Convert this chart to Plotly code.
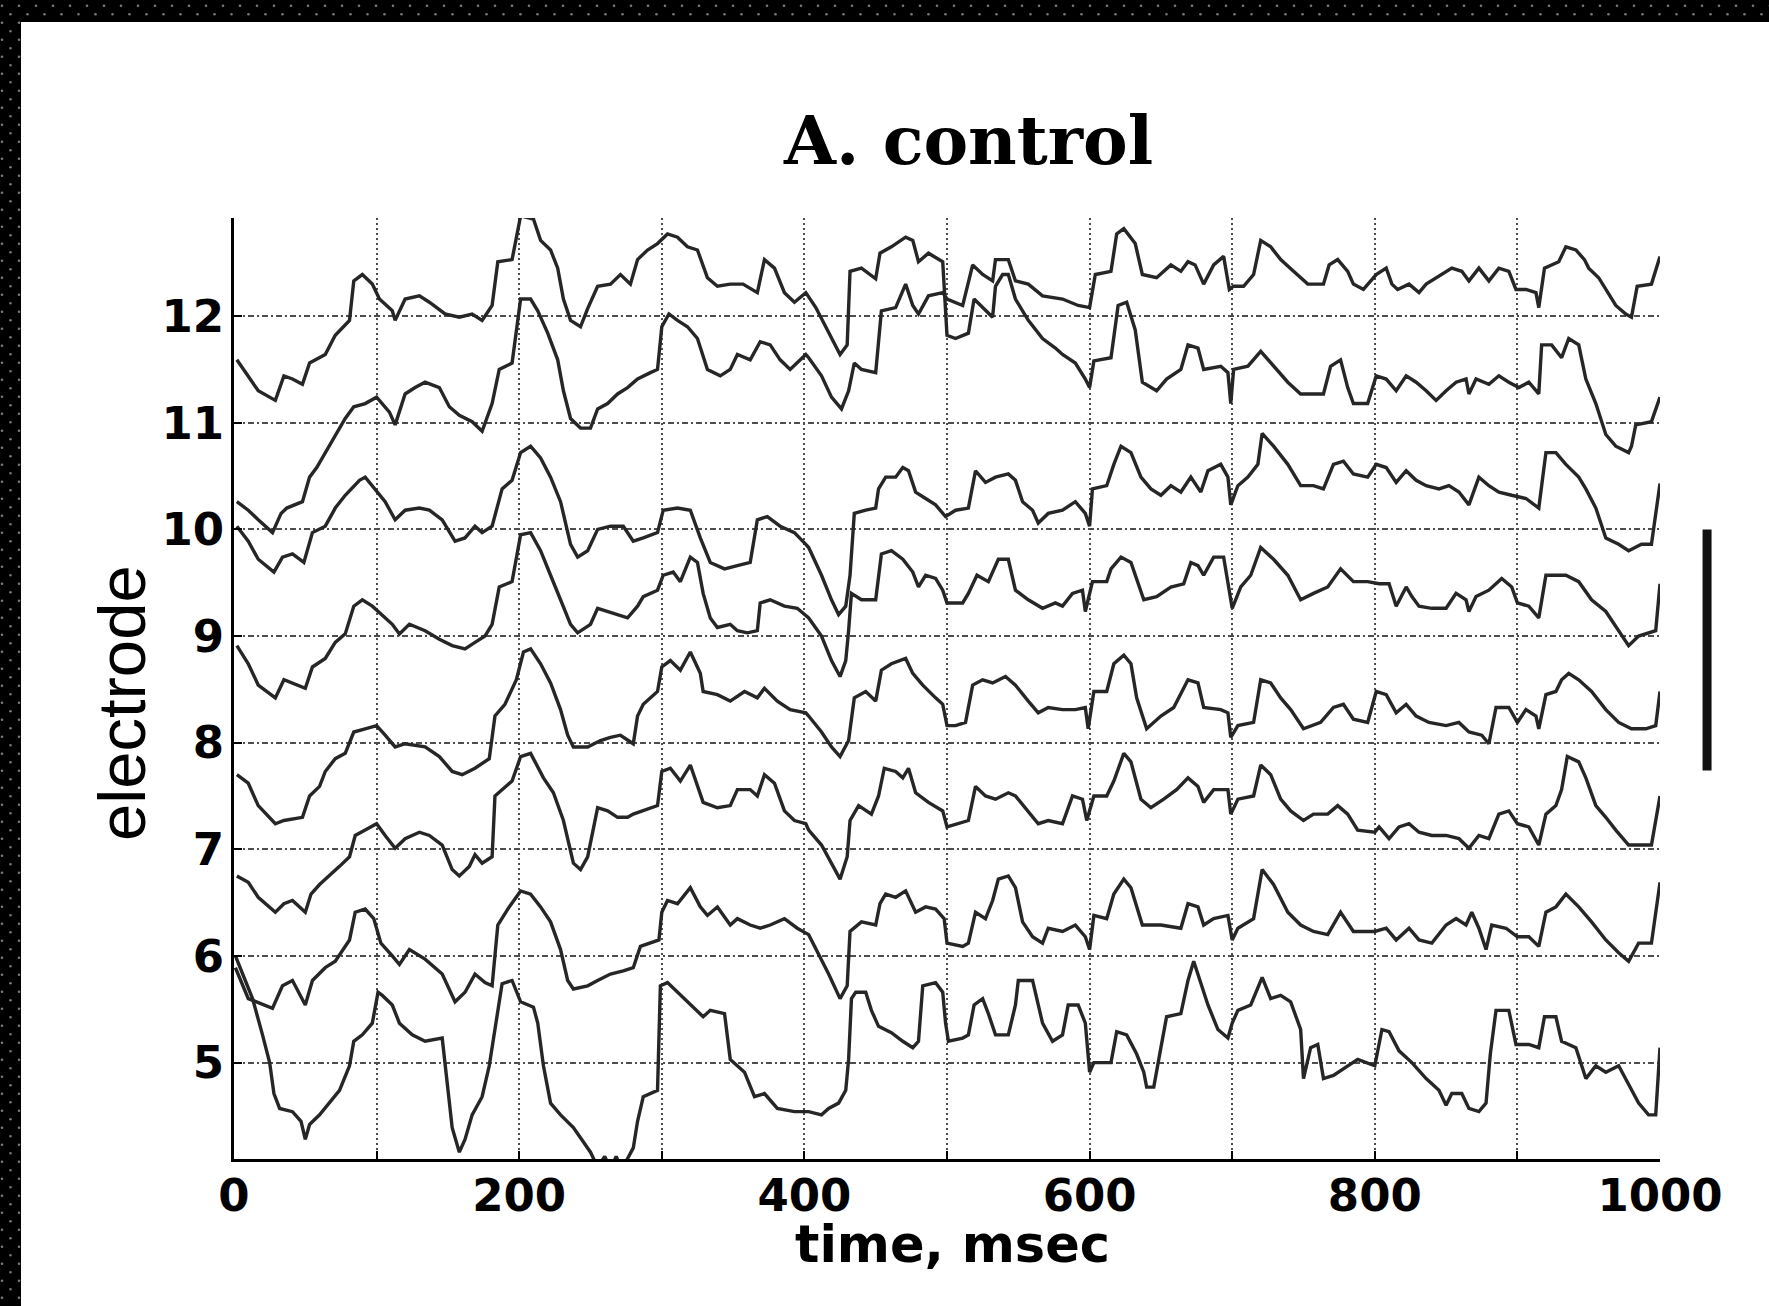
import plotly.graph_objects as go

# ---------------- data ----------------
X_TICKS = list(range(0, 1001, 100))
X_LABELS = [str(v) if v % 200 == 0 else "" for v in X_TICKS]
Y_TICKS = [5, 6, 7, 8, 9, 10, 11, 12]
Y_RANGE = [4.096, 12.92]
X_RANGE = [0, 1000]
SCALE_BAR = [7.74, 10.0]          # vertical scale bar (electrode units)
SCALE_BAR_X = 1.033               # paper x position (right of axes)

# (time msec, value) traces, one per electrode (top to bottom at t=0)
trace_12 = [(2,11.59),(17,11.30),(29,11.21),(35,11.44),(41,11.41),(48,11.36),(53,11.56),(64,11.64),(71,11.82),(81,11.96),(84,12.33),(90,12.39),(97,12.30),(102,12.16),(111,12.05),(113,11.96),(120,12.16),(130,12.19),(137,12.13),(148,12.02),(158,11.99),(167,12.02),(174,11.96),(181,12.10),(185,12.51),(195,12.53),
(201,12.94),(210,12.91),(215,12.71),(222,12.62),(227,12.45),(231,12.16),(236,11.96),(243,11.90),(248,12.07),(255,12.28),(264,12.30),(271,12.39),(278,12.30),(283,12.53),(290,12.62),(297,12.68),(304,12.77),(311,12.74),(318,12.65),(325,12.62),(332,12.36),(339,12.28),(348,12.30),(357,12.30),(367,12.22),(372,12.53),(379,12.45),(386,12.22),(393,12.13),
(401,12.22),(408,12.08),(417,11.84),(425,11.64),(430,11.73),(432,12.42),(440,12.45),(450,12.35),(453,12.59),(461,12.65),(471,12.74),(476,12.71),(480,12.51),(487,12.59),(497,12.51),(498,12.28),(500,11.82),(506,11.79),(515,11.84),(519,12.16),(525,12.08),(532,11.99),(534,12.28),(539,12.39),(543,12.39),(548,12.16),(557,11.96),(567,11.79),(576,11.70),(581,11.64),(590,11.56),(597,11.41),(600,11.33),
(603,11.58),(615,11.61),(620,12.10),(626,12.13),(632,11.87),(637,11.38),(647,11.30),(654,11.41),(664,11.50),(669,11.73),(676,11.70),(680,11.50),(692,11.53),(697,11.47),(699,11.18),(701,11.50),(711,11.53),(720,11.67),(729,11.53),(739,11.38),(748,11.27),(757,11.27),(764,11.27),(769,11.53),(776,11.59),(781,11.33),(785,11.18),(795,11.18),
(801,11.44),(808,11.41),(815,11.30),(822,11.44),(829,11.38),(836,11.30),(843,11.21),(850,11.30),(857,11.38),(864,11.41),(866,11.27),(871,11.41),(880,11.36),(887,11.44),(894,11.38),(901,11.33),(908,11.38),(915,11.27),(917,11.73),(924,11.73),(931,11.61),(936,11.79),(943,11.73),(948,11.41),(955,11.18),(962,10.89),(969,10.78),(978,10.72),(980,10.78),(983,10.98),(994,11.01),(1000,11.24)]

trace_11 = [(2,10.26),(10,10.18),(17,10.09),(27,9.97),(33,10.15),(37,10.20),(48,10.26),(53,10.49),(58,10.58),(64,10.72),(71,10.87),(78,11.04),(84,11.15),(92,11.18),(100,11.24),(109,11.10),(113,10.98),(120,11.27),(127,11.33),(134,11.38),(144,11.33),(151,11.15),(158,11.07),(167,11.01),(174,10.92),(181,11.18),(186,11.50),(195,11.56),
(201,12.16),(208,12.16),(213,12.05),(220,11.84),(227,11.59),(231,11.30),(236,11.04),(243,10.95),(250,10.95),(255,11.13),(262,11.18),(269,11.27),(276,11.33),(283,11.41),(292,11.47),(297,11.50),(300,11.90),(305,12.02),(311,11.96),(318,11.90),(325,11.79),(332,11.50),(341,11.44),(348,11.50),(353,11.64),(362,11.59),(369,11.76),(376,11.73),(383,11.59),(390,11.50),(401,11.64),
(403,11.61),(412,11.44),(419,11.24),(426,11.13),(431,11.30),(435,11.56),(440,11.50),(450,11.47),(454,12.05),(464,12.08),(471,12.30),(476,12.10),(480,12.02),(487,12.19),(497,12.22),(500,12.16),(511,12.10),(518,12.48),(525,12.39),(532,12.33),(534,12.53),(543,12.53),(548,12.33),(557,12.30),(567,12.19),(581,12.16),(592,12.10),(600,12.08),
(604,12.39),(615,12.42),(619,12.77),(624,12.82),(632,12.68),(637,12.39),(647,12.36),(657,12.48),(664,12.42),(669,12.51),(674,12.48),(680,12.30),(687,12.48),(694,12.56),(698,12.25),(701,12.28),(708,12.28),(715,12.39),(720,12.71),(727,12.65),(734,12.53),(743,12.42),(753,12.30),(764,12.30),(768,12.48),(774,12.53),(781,12.42),(785,12.30),(792,12.25),
(801,12.39),(808,12.45),(812,12.30),(816,12.25),(824,12.30),(831,12.22),(836,12.30),(847,12.39),(854,12.45),(861,12.42),(866,12.33),(873,12.45),(880,12.33),(887,12.45),(894,12.42),(899,12.25),(906,12.25),(913,12.22),(915,12.08),(919,12.45),(924,12.48),(929,12.51),(934,12.65),(941,12.62),(947,12.53),(950,12.45),(957,12.36),(962,12.25),(969,12.10),(976,12.02),(980,11.99),(984,12.28),(994,12.30),(1000,12.56)]

trace_10 = [(2,10.03),(10,9.89),(17,9.72),(28,9.60),(34,9.74),(41,9.77),(49,9.69),(55,9.97),(64,10.03),(71,10.20),(78,10.32),(88,10.46),(92,10.49),(99,10.38),(106,10.26),(113,10.09),(120,10.18),(130,10.20),(137,10.18),(146,10.09),(155,9.89),(162,9.92),(169,10.03),(174,9.97),(181,10.03),(188,10.38),(195,10.46),
(201,10.72),(208,10.78),(215,10.67),(222,10.49),(229,10.26),(236,9.86),(241,9.74),(248,9.80),(255,10.00),(264,10.03),(273,10.03),(280,9.89),(287,9.92),(297,9.97),(301,10.18),(311,10.20),(320,10.18),(327,9.92),(334,9.69),(344,9.63),(353,9.66),(362,9.69),(367,10.09),(374,10.12),(383,10.03),(393,9.97),(401,9.86),
(403,9.83),(412,9.57),(419,9.34),(424,9.20),(429,9.28),(432,9.57),(435,10.15),(443,10.18),(450,10.20),(452,10.38),(457,10.49),(464,10.49),(469,10.58),(473,10.55),(478,10.35),(485,10.29),(492,10.23),(499,10.12),(506,10.18),(515,10.20),(520,10.55),(527,10.44),(534,10.49),(543,10.52),(548,10.46),(553,10.26),(560,10.18),(564,10.06),(571,10.15),(581,10.18),(590,10.26),(597,10.15),(600,10.03),
(602,10.38),(612,10.41),(617,10.61),(622,10.78),(629,10.72),(636,10.49),(643,10.38),(650,10.32),(657,10.41),(664,10.35),(671,10.49),(678,10.35),(683,10.55),(692,10.61),(697,10.49),(699,10.23),(704,10.41),(711,10.49),(718,10.61),(721,10.90),(729,10.78),(739,10.61),(748,10.41),(757,10.41),(764,10.38),(771,10.61),(778,10.64),(785,10.52),(795,10.49),
(801,10.61),(808,10.58),(815,10.44),(822,10.55),(829,10.46),(836,10.41),(845,10.38),(852,10.41),(859,10.35),(866,10.23),(873,10.49),(880,10.41),(887,10.35),(896,10.32),(906,10.29),(915,10.20),(920,10.72),(927,10.72),(934,10.61),(943,10.49),(948,10.38),(955,10.20),(962,9.92),(971,9.86),(978,9.80),(987,9.86),(994,9.86),(1000,10.43)]

trace_9 = [(2,8.91),(10,8.74),(17,8.54),(29,8.42),(35,8.59),(41,8.56),(50,8.51),(55,8.71),(64,8.79),(71,8.94),(78,9.02),(84,9.28),(90,9.34),(97,9.28),(104,9.20),(111,9.11),(116,9.02),(123,9.11),(134,9.05),(144,8.97),(153,8.91),(162,8.88),(169,8.94),(176,9.00),(181,9.11),(186,9.46),(195,9.51),
(201,9.95),(208,9.97),(215,9.80),(222,9.57),(229,9.34),(236,9.11),(241,9.03),(250,9.11),(255,9.26),(262,9.23),(269,9.20),(276,9.17),(283,9.28),(287,9.37),(297,9.43),(301,9.57),(308,9.60),(313,9.51),(320,9.74),(325,9.69),(329,9.40),(334,9.17),(339,9.08),(348,9.11),(353,9.05),(360,9.03),(367,9.05),(369,9.31),(376,9.34),(386,9.28),(395,9.26),
(403,9.17),(412,9.00),(419,8.77),(425,8.62),(429,8.77),(431,9.05),(433,9.40),(440,9.34),(450,9.34),(454,9.77),(461,9.80),(469,9.72),(476,9.60),(480,9.46),(485,9.57),(492,9.54),(497,9.43),(500,9.31),(511,9.31),(515,9.40),(521,9.57),(529,9.51),(536,9.72),(543,9.72),(548,9.43),(557,9.34),(567,9.26),(576,9.31),(581,9.28),(588,9.40),(595,9.43),(597,9.23),
(602,9.51),(612,9.51),(615,9.63),(622,9.74),(629,9.69),(638,9.34),(647,9.37),(657,9.46),(666,9.49),(671,9.69),(676,9.66),(680,9.57),(687,9.74),(694,9.74),(698,9.40),(700,9.26),(706,9.46),(713,9.57),(720,9.83),(729,9.72),(739,9.57),(748,9.34),(757,9.40),(767,9.46),(776,9.63),(785,9.51),(795,9.51),
(803,9.49),(810,9.49),(815,9.28),(822,9.46),(826,9.37),(831,9.28),(840,9.26),(850,9.26),(857,9.40),(864,9.34),(866,9.23),(871,9.37),(880,9.43),(889,9.54),(896,9.46),(900,9.31),(908,9.28),(915,9.17),(920,9.57),(927,9.57),(934,9.57),(943,9.51),(952,9.34),(962,9.23),(971,9.05),(978,8.91),(985,9.00),(992,9.03),(997,9.05),(1000,9.49)]

trace_8 = [(2,7.70),(10,7.62),(17,7.41),(29,7.24),(35,7.27),(48,7.30),(53,7.50),(60,7.59),(64,7.73),(71,7.85),(78,7.90),(84,8.10),(92,8.13),(100,8.16),(106,8.07),(113,7.96),(120,7.99),(134,7.96),(144,7.87),(153,7.73),(160,7.70),(169,7.76),(179,7.85),(183,8.25),(190,8.36),(198,8.59),
(203,8.85),(208,8.88),(215,8.74),(222,8.56),(229,8.31),(234,8.07),(238,7.96),(248,7.96),(257,8.02),(264,8.05),(271,8.07),(280,7.99),(283,8.25),(287,8.36),(297,8.48),(300,8.71),(306,8.77),(313,8.68),(320,8.85),(327,8.65),(329,8.48),(339,8.45),(348,8.39),(358,8.48),(367,8.42),(372,8.51),(381,8.39),(390,8.31),(401,8.28),
(403,8.25),(412,8.10),(419,7.96),(425,7.87),(431,8.02),(435,8.42),(443,8.48),(450,8.39),(454,8.68),(461,8.74),(471,8.79),(476,8.65),(483,8.54),(492,8.42),(497,8.36),(500,8.16),(506,8.16),(513,8.19),(518,8.54),(525,8.59),(532,8.56),(541,8.62),(548,8.54),(557,8.39),(564,8.28),(571,8.33),(581,8.31),(590,8.31),(597,8.33),
(599,8.13),(603,8.48),(612,8.48),(617,8.74),(624,8.82),(629,8.74),(633,8.42),(640,8.13),(650,8.25),(659,8.33),(669,8.59),(676,8.56),(680,8.33),(692,8.31),(697,8.28),(699,8.05),(704,8.16),(715,8.19),(720,8.59),(727,8.56),(734,8.42),(741,8.31),(750,8.13),(762,8.19),(771,8.33),(778,8.36),(785,8.22),(795,8.19),
(801,8.48),(808,8.45),(815,8.28),(822,8.36),(829,8.25),(838,8.19),(850,8.16),(859,8.19),(866,8.10),(875,8.07),(880,7.99),(885,8.33),(894,8.33),(900,8.19),(906,8.31),(913,8.25),(915,8.13),(920,8.45),(927,8.48),(931,8.59),(936,8.65),(943,8.59),(952,8.48),(962,8.31),(971,8.19),(980,8.13),(990,8.13),(997,8.16),(1000,8.48)]

trace_7 = [(2,6.75),(10,6.69),(17,6.55),(29,6.41),(35,6.49),(41,6.52),(50,6.41),(54,6.58),(60,6.67),(67,6.75),(74,6.84),(81,6.93),(85,7.13),(92,7.18),(100,7.24),(106,7.13),(113,7.01),(120,7.10),(130,7.16),(137,7.13),(146,7.04),(153,6.81),(158,6.75),(165,6.84),(169,6.95),(174,6.87),(181,6.93),(183,7.50),(195,7.64),
(201,7.87),(208,7.90),(217,7.67),(224,7.53),(231,7.27),(238,6.87),(243,6.81),(248,6.93),(255,7.39),(262,7.36),(269,7.30),(276,7.30),(280,7.33),(287,7.36),(297,7.41),(300,7.73),(306,7.76),(313,7.64),(320,7.79),(329,7.44),(339,7.39),(348,7.41),(353,7.56),(362,7.56),(367,7.50),(372,7.70),(379,7.62),(386,7.36),(393,7.27),(401,7.24),
(403,7.18),(412,7.04),(419,6.87),(425,6.72),(430,6.93),(432,7.27),(438,7.41),(447,7.33),(452,7.50),(456,7.76),(464,7.73),(469,7.67),(473,7.76),(478,7.53),(487,7.44),(497,7.36),(500,7.21),(508,7.24),(515,7.27),(520,7.59),(527,7.50),(534,7.47),(543,7.53),(548,7.50),(557,7.36),(564,7.24),(571,7.27),(581,7.24),(588,7.50),(595,7.47),
(598,7.27),(603,7.50),(612,7.50),(617,7.64),(624,7.90),(629,7.82),(636,7.47),(643,7.39),(652,7.47),(661,7.56),(669,7.67),(676,7.59),(680,7.44),(687,7.56),(697,7.56),(699,7.33),(704,7.47),(715,7.50),(720,7.79),(727,7.70),(734,7.47),(741,7.36),(750,7.27),(757,7.33),(767,7.33),(774,7.41),(781,7.33),(788,7.18),(800,7.16),
(803,7.21),(810,7.10),(817,7.21),(824,7.24),(831,7.16),(840,7.13),(850,7.13),(859,7.10),(866,7.01),(873,7.13),(880,7.10),(887,7.33),(894,7.36),(900,7.24),(908,7.21),(915,7.04),(920,7.33),(927,7.41),(931,7.56),(935,7.87),(943,7.82),(948,7.67),(955,7.41),(962,7.30),(969,7.18),(978,7.04),(987,7.04),(994,7.04),(1000,7.50)]

trace_6 = [(1,5.89),(10,5.60),(27,5.51),(34,5.72),(41,5.77),(50,5.54),(55,5.77),(64,5.89),(71,5.95),(81,6.15),(85,6.41),(92,6.44),(98,6.35),(103,6.12),(111,6.00),(116,5.92),(123,6.06),(134,5.97),(146,5.83),(155,5.57),(162,5.66),(169,5.83),(176,5.75),(181,5.72),(185,6.29),(193,6.46),
(201,6.61),(208,6.58),(215,6.46),(222,6.32),(229,6.06),(234,5.77),(238,5.69),(248,5.72),(255,5.77),(264,5.83),(273,5.86),(280,5.89),(285,6.09),(292,6.12),(298,6.15),(300,6.41),(304,6.52),(311,6.49),(320,6.64),(327,6.46),(332,6.38),(339,6.46),(348,6.29),(353,6.35),(362,6.29),(369,6.26),(376,6.29),(386,6.35),(395,6.26),
(403,6.20),(412,5.97),(417,5.83),(425,5.60),(430,5.72),(432,6.23),(440,6.32),(450,6.29),(453,6.49),(457,6.58),(464,6.55),(471,6.61),(478,6.41),(485,6.46),(492,6.44),(498,6.35),(500,6.12),(511,6.09),(515,6.12),(520,6.41),(527,6.35),(532,6.52),(536,6.72),(543,6.75),(548,6.64),(553,6.32),(560,6.18),(567,6.12),(571,6.26),(581,6.23),(590,6.29),(597,6.18),
(600,6.06),(603,6.38),(612,6.35),(617,6.58),(624,6.72),(629,6.64),(637,6.29),(650,6.29),(664,6.26),(669,6.49),(676,6.46),(680,6.29),(687,6.35),(697,6.38),(700,6.15),(704,6.26),(715,6.35),(721,6.81),(729,6.67),(739,6.41),(748,6.29),(757,6.23),(767,6.20),(776,6.41),(785,6.23),(800,6.23),
(808,6.26),(815,6.15),(824,6.26),(831,6.15),(840,6.12),(850,6.29),(857,6.35),(864,6.29),(868,6.41),(873,6.26),(878,6.06),(882,6.29),(892,6.26),(900,6.18),(908,6.18),(915,6.09),(920,6.41),(927,6.46),(934,6.58),(943,6.46),(952,6.32),(962,6.15),(971,6.03),(978,5.95),(985,6.12),(994,6.12),(1000,6.69)]

trace_5 = [(1,6.00),(6,5.83),(13,5.60),(20,5.26),(25,5.00),(28,4.71),(32,4.57),(41,4.54),(47,4.45),(50,4.28),(53,4.42),(60,4.51),(67,4.62),(74,4.74),(81,4.97),(84,5.20),(90,5.26),(97,5.37),(101,5.66),(104,5.63),(111,5.54),(116,5.37),(125,5.26),(134,5.20),(146,5.23),(148,4.97),(153,4.39),(158,4.16),(162,4.28),(167,4.51),(174,4.68),(179,4.97),(183,5.31),(188,5.74),(195,5.77),
(201,5.57),(210,5.52),(213,5.37),(217,4.97),(222,4.62),(229,4.51),(238,4.39),(250,4.16),(255,4.02),(260,4.12),(264,4.00),(268,4.12),(272,4.00),(276,4.10),(280,4.20),(283,4.45),(287,4.68),(297,4.74),(299,5.72),(304,5.75),(311,5.66),(320,5.54),(329,5.43),(334,5.49),(344,5.46),(348,5.03),(358,4.91),(365,4.68),(372,4.71),(381,4.57),(393,4.54),(401,4.54),
(403,4.54),(412,4.51),(417,4.57),(424,4.62),(429,4.74),(431,5.03),(433,5.60),(436,5.66),(443,5.66),(447,5.49),(452,5.34),(461,5.28),(469,5.20),(476,5.14),(480,5.20),(483,5.72),(492,5.75),(497,5.66),(499,5.37),(501,5.20),(511,5.23),(515,5.26),(519,5.54),(525,5.60),(529,5.46),(534,5.26),(543,5.26),(548,5.54),(550,5.77),(560,5.77),(562,5.66),(567,5.37),(574,5.20),(581,5.26),(585,5.54),(592,5.54),(597,5.37),
(600,4.91),(603,5.00),(615,5.00),(619,5.29),(626,5.26),(633,5.08),(638,4.91),(640,4.77),(645,4.77),(650,5.14),(654,5.43),(664,5.46),(669,5.77),(673,5.95),(678,5.75),(683,5.54),(690,5.31),(697,5.23),(700,5.37),(704,5.49),(713,5.54),(721,5.80),(727,5.60),(734,5.63),(741,5.57),(748,5.31),(750,4.85),(755,5.14),(760,5.17),(764,4.85),(771,4.88),(781,4.97),(788,5.03),(800,4.97),
(805,5.31),(810,5.29),(817,5.11),(826,5.00),(836,4.85),(845,4.74),(850,4.60),(854,4.71),(861,4.71),(866,4.57),(873,4.54),(878,4.62),(881,5.08),(885,5.49),(894,5.49),(899,5.17),(908,5.17),(915,5.14),(919,5.43),(927,5.43),(931,5.20),(941,5.14),(948,4.85),(955,4.97),(962,4.91),(971,4.97),(978,4.80),(985,4.62),(992,4.51),(997,4.51),(1000,5.14)]

TRACES = [trace_12, trace_11, trace_10, trace_9, trace_8, trace_7, trace_6, trace_5]

# ---------------- figure ----------------
W, H = 1769, 1306
ML, MR, MT, MB = 234, 109, 218, 147
PW, PH = W - ML - MR, H - MT - MB


def px_x(px):
    return (px - ML) / PW


def px_y(py):
    return (H - MB - py) / PH


fig = go.Figure()
for pts in TRACES:
    fig.add_trace(go.Scatter(
        x=[p[0] for p in pts], y=[p[1] for p in pts],
        mode="lines", line=dict(color="#262626", width=3.4),
        showlegend=False, hoverinfo="skip"))

tick_font = dict(family="DejaVu Sans", size=45, color="black", weight="bold")

fig.update_layout(
    width=W, height=H,
    margin=dict(l=ML, r=MR, t=MT, b=MB),
    paper_bgcolor="white", plot_bgcolor="white",
    showlegend=False,
)
fig.update_xaxes(
    range=X_RANGE, tickvals=X_TICKS, ticktext=X_LABELS,
    showgrid=True, gridcolor="#4d4d4d", gridwidth=2, griddash="2px,3px",
    showline=True, linecolor="black", linewidth=3, mirror=False,
    ticks="inside", ticklen=8, tickwidth=2, tickcolor="black",
    tickfont=tick_font, ticklabelstandoff=-5, zeroline=False,
)
fig.update_yaxes(
    range=Y_RANGE, tickvals=Y_TICKS,
    showgrid=True, gridcolor="#4d4d4d", gridwidth=2, griddash="6px,3px,2px,3px",
    showline=True, linecolor="black", linewidth=3, mirror=False,
    ticks="inside", ticklen=8, tickwidth=2, tickcolor="black",
    tickfont=tick_font, ticklabelstandoff=-2, zeroline=False,
)

fig.add_annotation(text="A. control", xref="paper", yref="paper",
                   x=0.5147, y=1.082, xanchor="center", yanchor="middle", showarrow=False,
                   font=dict(family="DejaVu Serif", size=67, color="black", weight="bold"))
fig.add_annotation(text="time, msec", xref="paper", yref="paper",
                   x=0.5042, y=-0.091, xanchor="center", yanchor="middle", showarrow=False,
                   font=dict(family="DejaVu Sans", size=51, color="black", weight="bold"))
fig.add_annotation(text="electrode", xref="paper", yref="paper",
                   x=-0.079, y=0.485, xanchor="center", yanchor="middle", showarrow=False,
                   textangle=-90,
                   font=dict(family="Liberation Sans", size=67, color="black"))

# scale bar
fig.add_shape(type="line", xref="paper", yref="y",
              x0=SCALE_BAR_X, x1=SCALE_BAR_X, y0=SCALE_BAR[0], y1=SCALE_BAR[1],
              line=dict(color="#111111", width=9))

# black frame (top and left bands) with a faint halftone dot pattern
fig.add_shape(type="rect", xref="paper", yref="paper", layer="above",
              x0=px_x(-5), x1=px_x(21), y0=px_y(H + 5), y1=px_y(-5),
              fillcolor="black", line=dict(width=0))
fig.add_shape(type="rect", xref="paper", yref="paper", layer="above",
              x0=px_x(-5), x1=px_x(W + 5), y0=px_y(22), y1=px_y(-5),
              fillcolor="black", line=dict(width=0))
dot_r = 1.3
for i in range(0, int(W / 8.5) + 1):
    for j in range(0, int(H / 8.5) + 1):
        if (i + j) % 2:
            continue
        cx, cy = 2 + 8.5 * i, 5.7 + 8.5 * j
        if not ((j <= 1) or (i <= 2 and cy < H)):
            continue
        fig.add_shape(type="circle", xref="paper", yref="paper", layer="above",
                      x0=px_x(cx - dot_r), x1=px_x(cx + dot_r),
                      y0=px_y(cy + dot_r), y1=px_y(cy - dot_r),
                      fillcolor="#7a7a7a", line=dict(width=0))

fig.write_html("out.html",
               config={"displayModeBar": False},
               post_script="document.body.style.margin='0';document.body.style.background='white';")
